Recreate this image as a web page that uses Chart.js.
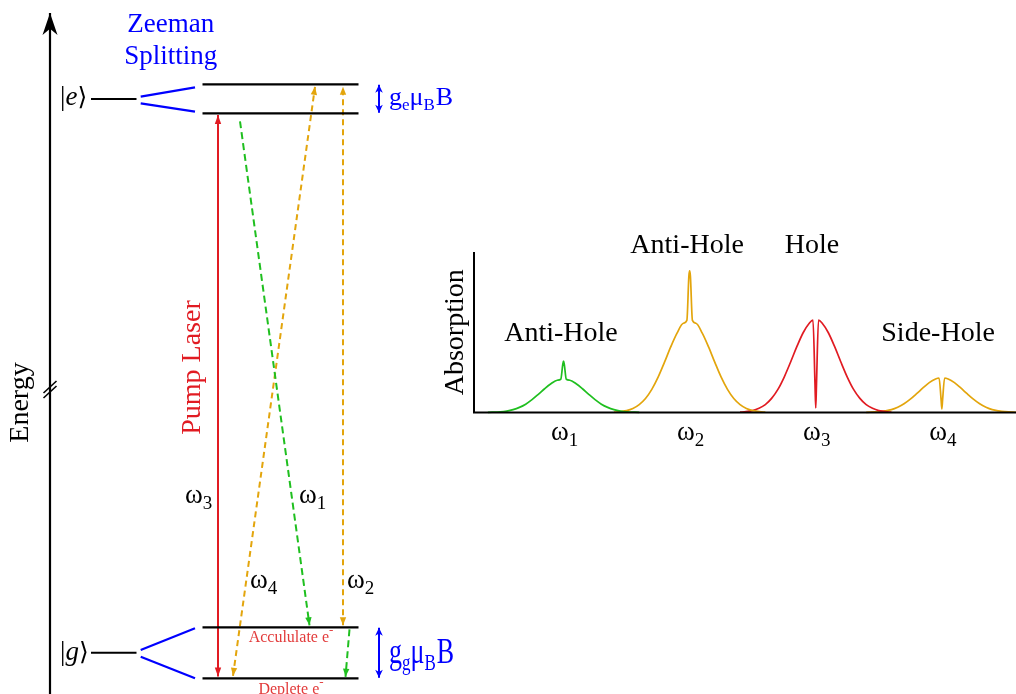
<!DOCTYPE html>
<html>
<head>
<meta charset="utf-8">
<script src="https://cdn.jsdelivr.net/npm/chart.js@4/dist/chart.umd.min.js"></script>
<style>
  html, body { margin: 0; padding: 0; background: #ffffff; overflow: hidden; }
  #wrap { position: relative; width: 1016px; height: 694px; }
  #wrap canvas { position: absolute; left: 0; top: 0; }
</style>
</head>
<body>
<div id="wrap">
  <canvas id="scheme" width="1016" height="694"></canvas>
  <canvas id="spectrum" width="1016" height="694"></canvas>
</div>
<script>
// ---------- Energy-level scheme (y = energy in arbitrary units) ----------
const excitedCentre = 595;               // |e> before Zeeman splitting
const groundCentre = 41.3;               // |g> before Zeeman splitting
const excitedSublevels = [609.7, 580.7]; // upper / lower Zeeman sublevel of |e>
const groundSublevels = [66.7, 15.7];    // upper / lower Zeeman sublevel of |g>
const transitionSubscripts = ['1', '2', '3', '4'];

// ---------- Absorption spectrum ----------
const peakCentres = [1, 2, 3, 4];        // ω1 … ω4
const tickSubscripts = ['1', '2', '3', '4'];
const featureNames = ['Anti-Hole', 'Anti-Hole', 'Hole', 'Side-Hole'];
const sampleOffsets = [-0.6, -0.5, -0.45, -0.4, -0.35, -0.3, -0.25, -0.2, -0.15, -0.1, -0.05, -0.022, -0.006, 0,
                       0.006, 0.022, 0.05, 0.1, 0.15, 0.2, 0.25, 0.3, 0.35, 0.4, 0.45, 0.5, 0.6];
const absorptionW1 = [0.001, 0.004, 0.009, 0.018, 0.032, 0.052, 0.080, 0.113, 0.148, 0.179, 0.201, 0.207, 0.300, 0.321,
                      0.300, 0.207, 0.201, 0.179, 0.148, 0.113, 0.080, 0.052, 0.032, 0.018, 0.009, 0.004, 0.001];
const absorptionW2 = [0.002, 0.012, 0.025, 0.049, 0.087, 0.144, 0.220, 0.312, 0.409, 0.495, 0.556, 0.574, 0.850, 0.882,
                      0.850, 0.574, 0.556, 0.495, 0.409, 0.312, 0.220, 0.144, 0.087, 0.049, 0.025, 0.012, 0.002];
const absorptionW3 = [0.002, 0.012, 0.026, 0.049, 0.088, 0.144, 0.221, 0.313, 0.410, 0.497, 0.558, 0.576, 0.180, 0.028,
                      0.180, 0.576, 0.558, 0.497, 0.410, 0.313, 0.221, 0.144, 0.088, 0.049, 0.026, 0.012, 0.002];
const absorptionW4 = [0.001, 0.005, 0.010, 0.018, 0.033, 0.054, 0.083, 0.117, 0.153, 0.186, 0.209, 0.215, 0.080, 0.022,
                      0.080, 0.215, 0.209, 0.186, 0.153, 0.117, 0.083, 0.054, 0.033, 0.018, 0.010, 0.005, 0.001];

// ---------- Styling ----------
const SERIF = '"Liberation Serif", "DejaVu Serif", serif';
const BLACK = '#000000';
const BLUE = '#0000ff';
const RED = '#e11b22';
const RED_TEXT = '#e23a3a';
const GREEN = '#1fbf1f';
const GOLD = '#e3a50c';

// Draws a sequence of text runs (for subscripts, italics, etc.)
function drawRuns(ctx, runs, x, y, align, color) {
  ctx.save();
  ctx.fillStyle = color;
  ctx.textAlign = 'left';
  ctx.textBaseline = 'alphabetic';
  const widths = runs.map(r => {
    ctx.font = `${r.style || ''} ${r.size}px ${SERIF}`;
    return ctx.measureText(r.t).width + (r.kern || 0);
  });
  const total = widths.reduce((a, b) => a + b, 0);
  let cx = align === 'center' ? x - total / 2 : align === 'right' ? x - total : x;
  runs.forEach((r, i) => {
    ctx.font = `${r.style || ''} ${r.size}px ${SERIF}`;
    ctx.fillText(r.t, cx, y + (r.dy || 0));
    cx += widths[i];
  });
  ctx.restore();
}
function omega(sub, size) {
  return [{ t: 'ω', size: size }, { t: sub, size: Math.round(size * 0.7), dy: size * 0.22 }];
}

function arrowHead(ctx, tip, from, len, half, color, stealth) {
  const ang = Math.atan2(tip.y - from.y, tip.x - from.x);
  ctx.save();
  ctx.translate(tip.x, tip.y);
  ctx.rotate(ang);
  ctx.fillStyle = color;
  ctx.beginPath();
  ctx.moveTo(0, 0);
  ctx.lineTo(-len, -half);
  if (stealth) ctx.lineTo(-len * 0.72, 0);
  ctx.lineTo(-len, half);
  ctx.closePath();
  ctx.fill();
  ctx.restore();
}

// ---------- Scheme datasets ----------
function seg(points, color, width, extra) {
  return Object.assign({
    data: points, showLine: true, borderColor: color, backgroundColor: color,
    borderWidth: width, pointRadius: 0, pointHoverRadius: 0, clip: false, tension: 0
  }, extra || {});
}

const schemeDatasets = [
  // energy axis with break marks
  seg([{ x: 50, y: 0 }, { x: 50, y: 681 }], BLACK, 2.2, { heads: { end: [22, 7.5, true] } }),
  seg([{ x: 43.5, y: 301 }, { x: 56.5, y: 313 }], BLACK, 1.6),
  seg([{ x: 43.5, y: 296 }, { x: 56.5, y: 308 }], BLACK, 1.6),
  // unsplit levels
  seg([{ x: 91, y: excitedCentre }, { x: 136.5, y: excitedCentre }], BLACK, 2),
  seg([{ x: 91, y: groundCentre }, { x: 136.5, y: groundCentre }], BLACK, 2),
  // Zeeman splitting fans
  seg([{ x: 140.7, y: excitedCentre + 2.3 }, { x: 195, y: excitedSublevels[0] - 3 }], BLUE, 2.2),
  seg([{ x: 140.7, y: excitedCentre - 4.3 }, { x: 195, y: excitedSublevels[1] + 1.6 }], BLUE, 2.2),
  seg([{ x: 140.7, y: groundCentre + 2.7 }, { x: 195, y: groundSublevels[0] - 1 }], BLUE, 2.2),
  seg([{ x: 140.7, y: groundCentre - 4 }, { x: 195, y: groundSublevels[1] }], BLUE, 2.2),
  // Zeeman sublevels
  ...excitedSublevels.concat(groundSublevels).map(e =>
    seg([{ x: 202.5, y: e }, { x: 358.5, y: e }], BLACK, 2.2)),
  // splitting size markers
  seg([{ x: 379, y: excitedSublevels[1] + 0.5 }, { x: 379, y: excitedSublevels[0] - 0.5 }], BLUE, 2,
      { heads: { start: [8, 3.8, true], end: [8, 3.8, true] } }),
  seg([{ x: 379, y: groundSublevels[1] + 0.5 }, { x: 379, y: groundSublevels[0] - 0.5 }], BLUE, 2,
      { heads: { start: [8, 3.8, true], end: [8, 3.8, true] } }),
  // pump laser ω3
  seg([{ x: 218, y: groundSublevels[1] + 1.7 }, { x: 218, y: excitedSublevels[1] - 1.7 }], RED, 2,
      { heads: { start: [9, 3.2, false], end: [9, 3.2, false] } }),
  // ω1 decay and relaxation (green)
  seg([{ x: 240, y: excitedSublevels[1] - 8 }, { x: 309.5, y: groundSublevels[0] + 2 }], GREEN, 2,
      { borderDash: [7, 4], heads: { end: [8, 3.2, false] } }),
  seg([{ x: 349.5, y: groundSublevels[0] - 2 }, { x: 345.5, y: groundSublevels[1] + 1.5 }], GREEN, 2,
      { borderDash: [7, 4], heads: { end: [8, 3.2, false] } }),
  // ω4 and ω2 (gold)
  seg([{ x: 233, y: groundSublevels[1] + 2.5 }, { x: 315, y: excitedSublevels[0] - 2.5 }], GOLD, 2,
      { borderDash: [6, 4], heads: { start: [8, 3.2, false], end: [8, 3.2, false] } }),
  seg([{ x: 343, y: groundSublevels[0] + 2 }, { x: 343, y: excitedSublevels[0] - 2.5 }], GOLD, 2,
      { borderDash: [6, 4], heads: { start: [8, 3.2, false], end: [8, 3.2, false] } })
];

const schemePlugin = {
  id: 'schemeDecor',
  afterDatasetsDraw(chart) {
    const ctx = chart.ctx;
    chart.data.datasets.forEach((ds, i) => {
      if (!ds.heads) return;
      const pts = chart.getDatasetMeta(i).data;
      const a = pts[0], b = pts[pts.length - 1];
      if (ds.heads.end) arrowHead(ctx, b, a, ds.heads.end[0], ds.heads.end[1], ds.borderColor, ds.heads.end[2]);
      if (ds.heads.start) arrowHead(ctx, a, b, ds.heads.start[0], ds.heads.start[1], ds.borderColor, ds.heads.start[2]);
    });
  },
  afterDraw(chart) {
    const ctx = chart.ctx;
    const X = v => chart.scales.x.getPixelForValue(v);
    const Y = v => chart.scales.y.getPixelForValue(v);
    // Zeeman splitting heading
    drawRuns(ctx, [{ t: 'Zeeman', size: 27 }], X(170.7), Y(662.3), 'center', BLUE);
    drawRuns(ctx, [{ t: 'Splitting', size: 27 }], X(170.7), Y(629.7), 'center', BLUE);
    // state labels
    drawRuns(ctx, [{ t: '|', size: 27 }, { t: 'e', size: 27, style: 'italic' }, { t: '⟩', size: 25 }],
             X(60), Y(589), 'left', BLACK);
    drawRuns(ctx, [{ t: '|', size: 27 }, { t: 'g', size: 27, style: 'italic' }, { t: '⟩', size: 25 }],
             X(60), Y(34), 'left', BLACK);
    // transition labels
    drawRuns(ctx, omega(transitionSubscripts[2], 27), X(185), Y(191), 'left', BLACK);
    drawRuns(ctx, omega(transitionSubscripts[0], 27), X(299), Y(191), 'left', BLACK);
    drawRuns(ctx, omega(transitionSubscripts[3], 27), X(250), Y(106), 'left', BLACK);
    drawRuns(ctx, omega(transitionSubscripts[1], 27), X(347), Y(106), 'left', BLACK);
    // splitting magnitudes
    const gRuns = s => [{ t: 'g', size: 26 }, { t: s, size: 17, dy: 5 }, { t: 'μ', size: 26 },
                        { t: 'B', size: 17, dy: 5, kern: 1 }, { t: 'B', size: 26 }];
    drawRuns(ctx, gRuns('e'), X(389), Y(589), 'left', BLUE);
    ctx.save();
    ctx.translate(X(389), Y(30.7));
    ctx.scale(1, 1.36);
    drawRuns(ctx, gRuns('g'), 0, 0, 'left', BLUE);
    ctx.restore();
    // population notes
    drawRuns(ctx, [{ t: 'Accululate e', size: 16 }, { t: '-', size: 13, dy: -8 }], X(291), Y(52.3), 'center', RED_TEXT);
    drawRuns(ctx, [{ t: 'Deplete e', size: 16 }, { t: '-', size: 13, dy: -8 }], X(291), Y(-0.3), 'center', RED_TEXT);
    // rotated labels
    ctx.save();
    ctx.translate(X(200), Y(326.5));
    ctx.rotate(-Math.PI / 2);
    drawRuns(ctx, [{ t: 'Pump Laser', size: 28 }], 0, 0, 'center', RED);
    ctx.restore();
    ctx.save();
    ctx.translate(X(28), Y(291.5));
    ctx.rotate(-Math.PI / 2);
    drawRuns(ctx, [{ t: 'Energy', size: 28 }], 0, 0, 'center', BLACK);
    ctx.restore();
  }
};

new Chart(document.getElementById('scheme'), {
  type: 'scatter',
  data: { datasets: schemeDatasets },
  options: {
    responsive: false, animation: false, devicePixelRatio: 1,
    layout: { padding: 0 },
    plugins: { legend: { display: false }, tooltip: { enabled: false } },
    events: [],
    scales: {
      x: { type: 'linear', min: 0, max: 1016, display: false },
      y: { type: 'linear', min: 0, max: 694, display: false }
    }
  },
  plugins: [schemePlugin]
});

// ---------- Spectrum chart ----------
const spectrumSeries = [absorptionW1, absorptionW2, absorptionW3, absorptionW4];
const spectrumColours = [GREEN, GOLD, RED, GOLD];
const spectrumDatasets = spectrumSeries.map((vals, k) => ({
  data: sampleOffsets.map((d, i) => ({ x: peakCentres[k] + d, y: vals[i] })),
  borderColor: spectrumColours[k],
  borderWidth: 1.7,
  pointRadius: 0,
  pointHoverRadius: 0,
  fill: false,
  cubicInterpolationMode: 'monotone',
  clip: false
}));

const spectrumPlugin = {
  id: 'spectrumDecor',
  afterDraw(chart) {
    const ctx = chart.ctx;
    const a = chart.chartArea;
    const X = v => chart.scales.x.getPixelForValue(v);
    const Y = v => chart.scales.y.getPixelForValue(v);
    // axes
    ctx.save();
    ctx.strokeStyle = BLACK;
    ctx.lineWidth = 2;
    ctx.beginPath();
    ctx.moveTo(a.left, a.top);
    ctx.lineTo(a.left, a.bottom);
    ctx.lineTo(a.right, a.bottom);
    ctx.stroke();
    ctx.restore();
    // tick labels
    peakCentres.forEach((c, i) => {
      drawRuns(ctx, omega(tickSubscripts[i], 27), X(c) + 1, Y(-0.172), 'center', BLACK);
    });
    // feature names
    const nameHeights = [0.445, 0.994, 0.994, 0.445];
    const nameShift = [-0.02, -0.02, -0.03, -0.03];
    featureNames.forEach((n, i) => {
      drawRuns(ctx, [{ t: n, size: 28 }], X(peakCentres[i] + nameShift[i]), Y(nameHeights[i]), 'center', BLACK);
    });
    // y-axis title
    ctx.save();
    ctx.translate(a.left - 11, Y(0.5));
    ctx.rotate(-Math.PI / 2);
    drawRuns(ctx, [{ t: 'Absorption', size: 28 }], 0, 0, 'center', BLACK);
    ctx.restore();
  }
};

new Chart(document.getElementById('spectrum'), {
  type: 'line',
  data: { datasets: spectrumDatasets },
  options: {
    responsive: false, animation: false, devicePixelRatio: 1,
    layout: { padding: { left: 474, top: 252, right: 0, bottom: 281.5 } },
    plugins: { legend: { display: false }, tooltip: { enabled: false } },
    events: [],
    scales: {
      x: { type: 'linear', min: 0.29, max: 4.588, display: false },
      y: { type: 'linear', min: 0, max: 1, display: false }
    }
  },
  plugins: [spectrumPlugin]
});
</script>
</body>
</html>
